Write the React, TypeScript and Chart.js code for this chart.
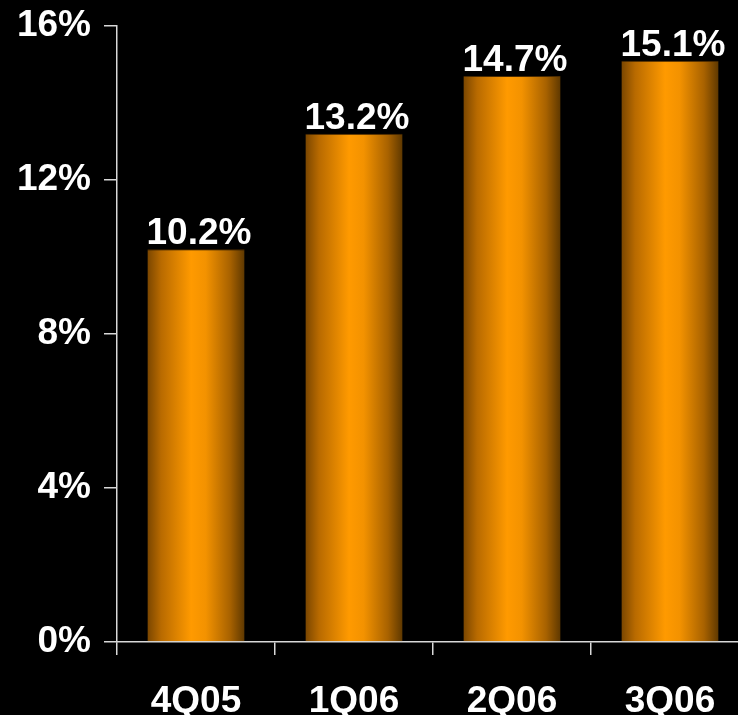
import React, { useEffect, useRef } from "react";
import { Chart, registerables } from "chart.js";

Chart.register(...registerables);

const categories = ["4Q05", "1Q06", "2Q06", "3Q06"];
const values = [10.2, 13.2, 14.7, 15.1];
const yTicks = [0, 4, 8, 12, 16];

const FONT = "'Liberation Sans', Arial, sans-serif";
const AXIS = "#d8d8d8";
const BAR_FRACTION = 0.615;

const valueLabels = {
  id: "valueLabels",
  afterDatasetsDraw(chart: any) {
    const ctx = chart.ctx;
    const meta = chart.getDatasetMeta(0);
    ctx.save();
    ctx.fillStyle = "#ffffff";
    ctx.font = `bold 37px ${FONT}`;
    ctx.textAlign = "center";
    ctx.textBaseline = "alphabetic";
    meta.data.forEach((el: any, i: number) => {
      ctx.fillText(values[i].toFixed(1) + "%", el.x + 3, el.y - 5);
    });
    ctx.restore();
  },
};

export default function App() {
  const ref = useRef<HTMLCanvasElement | null>(null);

  useEffect(() => {
    document.body.style.margin = "0";
    document.body.style.background = "#000";
    document.body.style.overflow = "hidden";
    const canvas = ref.current!;
    const chart = new Chart(canvas, {
      type: "bar",
      data: {
        labels: categories,
        datasets: [
          {
            data: values,
            backgroundColor: (c: any) => {
              const ch = c.chart;
              const xs = ch.scales && ch.scales.x;
              if (!xs || !ch.chartArea || c.dataIndex === undefined) return "#ff9900";
              const cx = xs.getPixelForValue(c.dataIndex);
              const half = ((xs.width / categories.length) * BAR_FRACTION) / 2;
              const g = ch.ctx.createLinearGradient(cx - half, 0, cx + half, 0);
              g.addColorStop(0, "#7a4600");
              g.addColorStop(0.14, "#b86a00");
              g.addColorStop(0.45, "#ff9a00");
              g.addColorStop(0.6, "#f39200");
              g.addColorStop(0.85, "#a86200");
              g.addColorStop(1, "#5e3800");
              return g;
            },
            borderColor: "#4a2a00",
            borderWidth: { top: 1, left: 0, right: 0, bottom: 0 },
            borderSkipped: false,
            categoryPercentage: 1,
            barPercentage: BAR_FRACTION,
          },
        ],
      },
      options: {
        responsive: false,
        animation: false,
        devicePixelRatio: 1,
        layout: { padding: { top: 26, right: 0, bottom: 0, left: 0 } },
        plugins: {
          legend: { display: false },
          tooltip: { enabled: false },
        },
        scales: {
          x: {
            offset: true,
            grid: {
              display: true,
              drawOnChartArea: false,
              drawTicks: true,
              tickLength: 13,
              color: AXIS,
              lineWidth: 1.5,
              offset: true,
            },
            border: { display: true, color: AXIS, width: 1.5 },
            ticks: {
              color: "#ffffff",
              font: { family: FONT, size: 37, weight: "bold" },
              padding: 25,
              maxRotation: 0,
            },
            afterFit: (s: any) => {
              s.height = 73;
              s.paddingLeft = 0;
              s.paddingRight = 0;
            },
          },
          y: {
            min: 0,
            max: 16,
            afterBuildTicks: (s: any) => {
              s.ticks = yTicks.map((v) => ({ value: v }));
            },
            grid: {
              display: true,
              drawOnChartArea: false,
              drawTicks: true,
              tickLength: 13,
              color: AXIS,
              lineWidth: 1.5,
            },
            border: { display: true, color: AXIS, width: 1.5 },
            ticks: {
              color: "#ffffff",
              font: { family: FONT, size: 37, weight: "bold" },
              padding: 13,
              callback: (v: any) => v + "%",
            },
            afterFit: (s: any) => {
              s.width = 117;
              s.paddingTop = 0;
              s.paddingBottom = 0;
            },
          },
        },
      },
      plugins: [valueLabels],
    } as any);
    return () => chart.destroy();
  }, []);

  return (
    <div
      style={{
        position: "fixed",
        left: 0,
        top: 0,
        width: 738,
        height: 715,
        overflow: "hidden",
        background: "#000",
      }}
    >
      <canvas ref={ref} width={749} height={715} style={{ display: "block" }} />
    </div>
  );
}
